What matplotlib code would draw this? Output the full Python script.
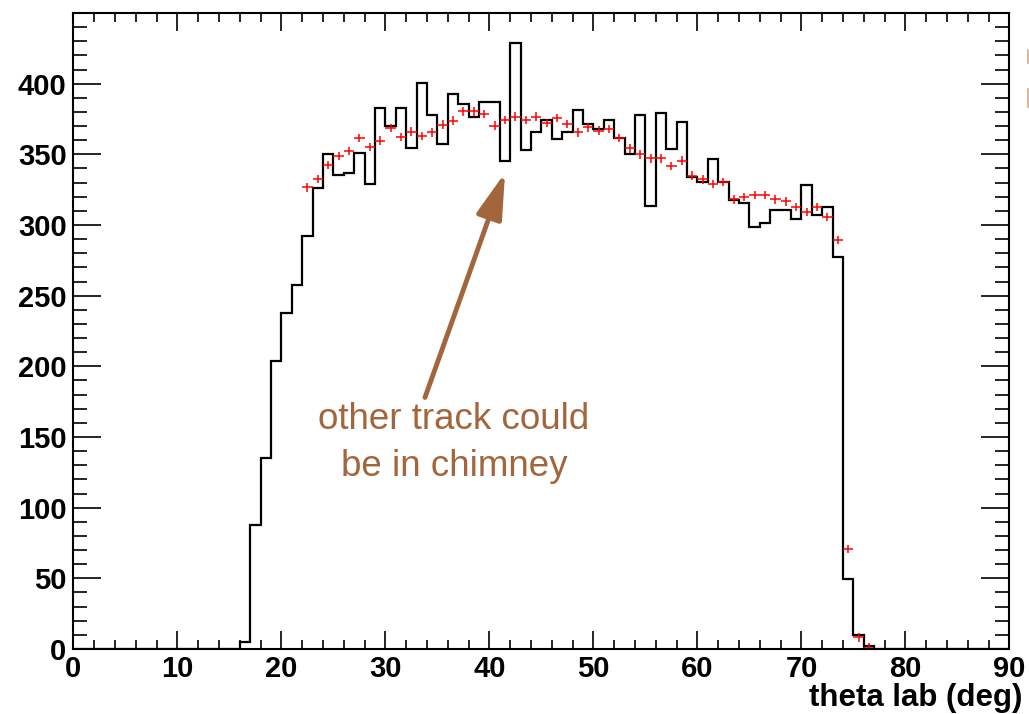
import matplotlib
matplotlib.use("Agg")
import matplotlib.pyplot as plt
from matplotlib.lines import Line2D
import numpy as np

# data histogram, 1 degree bins from 0 to 90
bin_edges = np.arange(0, 91, 1)
data_counts = [0] * 16 + [
    5, 88, 135.5, 203.5, 238, 257.5, 292, 326.5, 350.5, 335.7,
    336.6, 350.6, 328.7, 382.5, 370.3, 382.5, 354.5, 400.7, 377.6, 357.4,
    392.7, 385.6, 376.4, 386.8, 386.8, 345.6, 428.5, 353, 365.6, 374.6,
    360.6, 365.6, 381.6, 371.5, 367.7, 374.6, 361.4, 350.5, 377.5, 313.3,
    379.5, 353.6, 372.8, 334.3, 330.5, 346.5, 330.5, 317.7, 315.4, 298.5,
    301.5, 310.7, 310.7, 304.6, 328.4, 307.4, 312.6, 277.2, 49.5, 10.1,
    2.4,
] + [0] * 13

# simulation points (red crosses), bin centres 22.5 .. 76.5
mc_centers = np.arange(22.5, 77, 1)
mc_counts = [
    326.7, 332.6, 342.5, 349, 352.2, 361.6, 355.2, 359.7, 368.7, 362.1,
    366.1, 363, 365.6, 371, 373.9, 380.4, 380.4, 378.6, 370.3, 374.3,
    376.7, 374.3, 376.7, 372, 375.7, 371.5, 365.6, 369.1, 366.8, 368,
    361.4, 354.2, 350, 347.2, 347.2, 341.6, 345.6, 335, 332.2, 329.1,
    330.3, 318.1, 319.9, 321.1, 321.1, 318.2, 316.8, 312.6, 309.1, 312.6,
    305.5, 289.5, 70.7, 8.2, 1,
]

note_text = "other track could\nbe in chimney"
brown = "#a3663c"

fig = plt.figure(figsize=(10.29, 7.14), dpi=100)
ax = fig.add_axes([0.0714, 0.0910, 0.9096, 0.8908])

ax.stairs(data_counts, bin_edges, color="black", lw=1.6, baseline=None)
ax.errorbar(mc_centers, mc_counts, xerr=0.5, yerr=3, fmt="none",
            ecolor="red", elinewidth=1.1, capsize=0)

ax.set_xlim(0, 90)
ax.set_ylim(0, 450)
ax.set_xticks(np.arange(0, 91, 10))
ax.set_xticks(np.arange(0, 91, 2), minor=True)
ax.set_yticks(np.arange(0, 401, 50))
ax.set_yticks(np.arange(0, 451, 10), minor=True)

for s in ax.spines.values():
    s.set_linewidth(1.5)

ax.tick_params(axis="both", which="both", direction="in", top=True, right=True, width=1.2)
ax.tick_params(axis="x", which="major", length=13, pad=4)
ax.tick_params(axis="x", which="minor", length=6.5)
ax.tick_params(axis="y", which="major", length=20, pad=5)
ax.tick_params(axis="y", which="minor", length=10)

for lab in ax.get_xticklabels() + ax.get_yticklabels():
    lab.set_fontfamily("Liberation Sans")
    lab.set_fontweight("bold")
    lab.set_fontsize(21)

fig.text(0.994, 0.002, "theta lab (deg)", ha="right", va="bottom",
         fontsize=22.5, fontweight="bold", family="Liberation Sans")

ax.annotate("", xy=(41.5, 337), xytext=(33.8, 178),
            arrowprops=dict(arrowstyle="-|>,head_length=1.4,head_width=0.4",
                            color=brown, lw=3.5, mutation_scale=20,
                            shrinkA=0, shrinkB=0))
ax.text(36.6, 146, note_text, ha="center", va="center", color=brown,
        fontsize=26.5, family="Liberation Sans", linespacing=1.45)

# cut-off legend marks at the right edge
fig.add_artist(Line2D([0.9995, 0.9995], [0.912, 0.930], color="#d8a98a", lw=1.2))
fig.add_artist(Line2D([0.9995, 0.9995], [0.850, 0.875], color="#d8a98a", lw=1.2))

fig.savefig("out.png", dpi=100)
